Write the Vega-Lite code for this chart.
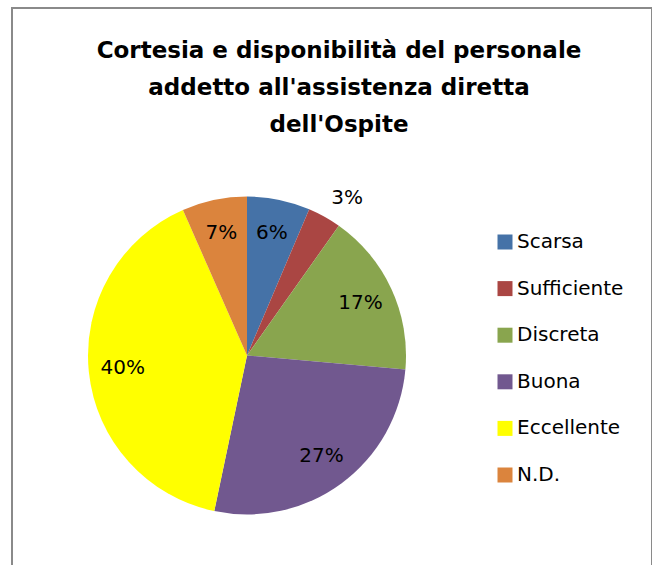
{
  "$schema": "https://vega.github.io/schema/vega-lite/v6.json",
  "width": 640,
  "height": 570,
  "autosize": "none",
  "padding": {"left": 12, "top": 8, "right": 0, "bottom": 0},
  "background": "white",
  "title": {
    "text": ["Cortesia e disponibilità del personale", "addetto all'assistenza diretta", "dell'Ospite"],
    "orient": "top",
    "anchor": "middle",
    "frame": "group",
    "dx": 7,
    "offset": -148,
    "baseline": "alphabetic",
    "lineHeight": 37,
    "font": "DejaVu Sans",
    "fontSize": 23,
    "fontWeight": "bold",
    "color": "#000000"
  },
  "config": {
    "view": {"stroke": null}
  },
  "data": {
    "values": [
      {"cat": "Scarsa", "idx": 1, "v": 0.064},
      {"cat": "Sufficiente", "idx": 2, "v": 0.034},
      {"cat": "Discreta", "idx": 3, "v": 0.166},
      {"cat": "Buona", "idx": 4, "v": 0.269},
      {"cat": "Eccellente", "idx": 5, "v": 0.401},
      {"cat": "N.D.", "idx": 6, "v": 0.066}
    ]
  },
  "layer": [
    {
      "data": {"values": [{}]},
      "mark": {"type": "rect", "fill": null, "stroke": "#8a8a8a", "strokeWidth": 2},
      "encoding": {}
    },
    {
      "mark": {"type": "arc", "x": 235, "y": 347.5, "outerRadius": 159, "stroke": null},
      "encoding": {
        "theta": {"field": "v", "type": "quantitative", "stack": true},
        "order": {"field": "idx", "type": "quantitative"},
        "color": {
          "field": "cat",
          "type": "nominal",
          "sort": ["Scarsa", "Sufficiente", "Discreta", "Buona", "Eccellente", "N.D."],
          "scale": {
            "domain": ["Scarsa", "Sufficiente", "Discreta", "Buona", "Eccellente", "N.D."],
            "range": ["#4572A7", "#AA4643", "#89A54E", "#71588F", "#FFFF00", "#DB843D"]
          },
          "legend": {
            "title": null,
            "orient": "none",
            "legendX": 483,
            "legendY": 224,
            "padding": 0,
            "symbolType": "square",
            "symbolSize": 225,
            "symbolStrokeWidth": 0,
            "labelFont": "DejaVu Sans",
            "labelFontSize": 20,
            "labelColor": "#000000",
            "labelOffset": 2,
            "rowPadding": 26.6
          }
        }
      }
    },
    {
      "mark": {"type": "text", "x": 235, "y": 347.5, "radius": 125, "font": "DejaVu Sans", "fontSize": 20, "fill": "#000000"},
      "encoding": {
        "theta": {"field": "v", "type": "quantitative", "stack": true},
        "order": {"field": "idx", "type": "quantitative"},
        "text": {
          "condition": {"test": "datum.cat != 'Sufficiente'", "field": "v", "type": "quantitative", "format": ".0%"},
          "value": ""
        }
      }
    },
    {
      "mark": {"type": "text", "x": 235, "y": 347.5, "radius": 187, "dx": 9, "dy": 6, "font": "DejaVu Sans", "fontSize": 20, "fill": "#000000"},
      "encoding": {
        "theta": {"field": "v", "type": "quantitative", "stack": true},
        "order": {"field": "idx", "type": "quantitative"},
        "text": {
          "condition": {"test": "datum.cat == 'Sufficiente'", "field": "v", "type": "quantitative", "format": ".0%"},
          "value": ""
        }
      }
    }
  ]
}
